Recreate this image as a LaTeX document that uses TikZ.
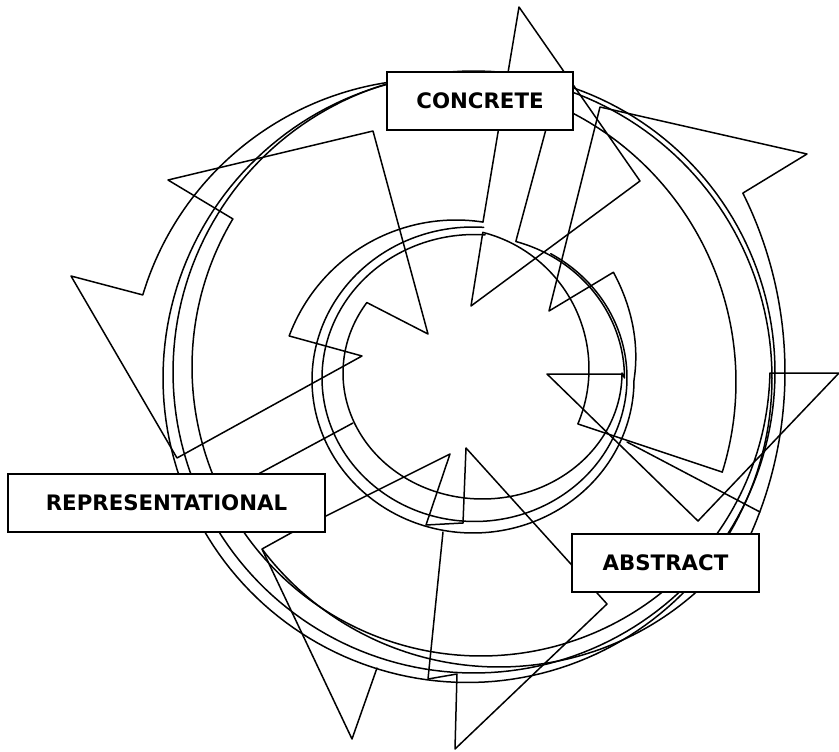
\documentclass[tikz,border=0pt]{standalone}
\usepackage{fontspec}
\setmainfont{DejaVu Sans}
\begin{document}
\begin{tikzpicture}[x=1pt,y=-1pt,
  ln/.style={line width=1.5pt, line join=round, line cap=round},
  box/.style={draw, line width=2.2pt, fill=white, inner sep=0pt,
    font=\fontsize{21.3}{25}\selectfont\bfseries}]
\useasboundingbox (0,0) rectangle (839,752);
\clip (0,0) rectangle (839,752);

% outer near-complete rings
\draw[ln] plot[domain=0:360,samples=200] ({467.5+304.5*cos(\x)},{378+304.5*sin(\x)}) -- cycle;
\draw[ln] plot[domain=0:360,samples=200] ({474+301*cos(\x)},{372+301*sin(\x)}) -- cycle;

% shape 1 : outer band edge + right arrowhead
\draw[ln] plot[domain=210.8:1.2,samples=160] ({481+289*cos(\x)},{367+289*sin(\x)})
  -- (839,373) -- (698,521) -- (547,374) -- (622,374);
% shape 1 : innermost arc + top-left head
\draw[ln] (549,118) -- (517,237)
  -- plot[domain=-74:0,samples=60] ({474.5+150*cos(\x)},{378+142*sin(\x)})
  -- plot[domain=0:214,samples=150] ({482.5+139.5*cos(\x)},{373+126*sin(\x)})
  -- (428,334) -- (373,131) -- (168,180) -- (233,219);

% shape 2 : big arc with left head, inner arcs and top head
\draw[ln] plot[domain=196.7:377.3,samples=160] ({433+303*cos(\x)},{382+303*sin(\x)})
  -- (578,424)
  -- plot[domain=22.9:-75.7,samples=60] ({448+141*cos(\x)},{369+141*sin(\x)})
  -- (471,306) -- (640,181) -- (519,7) -- (483,222)
  -- plot[domain=278.7:200.4,samples=60] ({456+178*cos(\x)},{398+178*sin(\x)})
  -- (362,356) -- (177,458) -- (71,276) -- cycle;

% shape 3 pieces
\draw[ln] plot[domain=273.8:-37.5,samples=200]
    ({473+(161+16*max(0,-1*(\x))/37.5)*cos(\x)},{380+(153+24*max(0,-1*(\x))/37.5)*sin(\x)})
  -- (549,311) -- (600,107) -- (807,154) -- (743,193)
  -- plot[domain=-26.5:26,samples=60] ({384+401*cos(\x)},{372+401*sin(\x)});
\draw[ln] plot[domain=274:-60,samples=200] ({474.5+152.5*cos(\x)},{378+143.5*sin(\x)});
\draw[ln] plot[domain=142.9:40,samples=90] ({499+297*cos(\x)},{370+297*sin(\x)});

% straight pieces
\draw[ln] (300,528) -- (262,549) -- (352,739) -- (377,668);
\draw[ln] (249,479) -- (353,423);
\draw[ln] (318,520) -- (450,454) -- (426,525) -- (463,523) -- (466,448) -- (607,604)
  -- (455,749) -- (457,674) -- (428,679) -- (443,532);
\draw[ln] (627,442) -- (760,512);

% label boxes
\node[box, minimum width=186pt, minimum height=58pt] (concrete) at (480,101) {CONCRETE};
\node[box, minimum width=317pt, minimum height=58pt] (repr) at (166.5,503) {REPRESENTATIONAL};
\node[box, minimum width=187pt, minimum height=58pt] (abstract) at (665.5,563) {ABSTRACT};
\end{tikzpicture}
\end{document}
